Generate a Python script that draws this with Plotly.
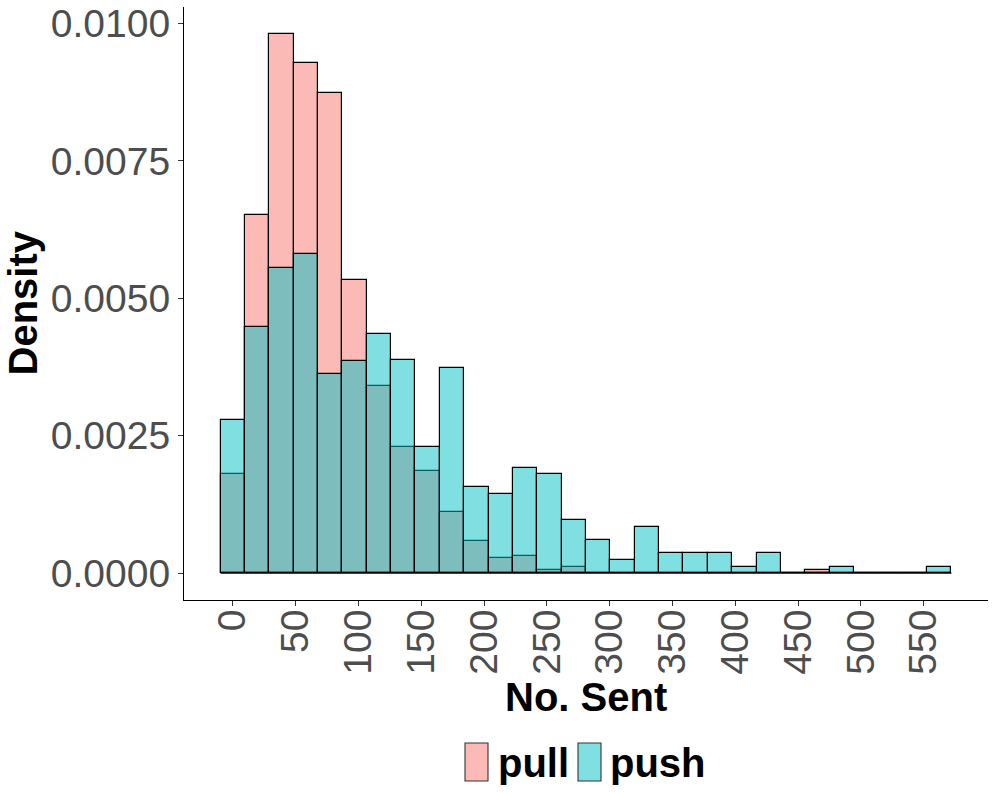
import plotly.graph_objects as go

# ---- data (density per bin) ----
bin_width = 19.39
n_bins = 30
bin_centers = [round(k * bin_width, 3) for k in range(n_bins)]

pull_density = [0.00181, 0.00651, 0.00981, 0.00928, 0.00874, 0.00533, 0.00341, 0.00229,
                0.00186, 0.00111, 0.00058, 0.00027, 0.00031, 0.000055, 0.00011, 0.0,
                0.0, 0.0, 0.0, 0.0, 0.0, 0.0, 0.0, 0.0,
                0.000055, 0.0, 0.0, 0.0, 0.0, 0.0]
push_density = [0.00278, 0.00447, 0.00556, 0.00580, 0.00362, 0.00385, 0.00435, 0.00387,
                0.00229, 0.00374, 0.00156, 0.00144, 0.00192, 0.00181, 0.00096, 0.0006,
                0.000236, 0.00084, 0.000357, 0.000357, 0.000357, 0.000115, 0.000357, 0.0,
                0.0, 0.000115, 0.0, 0.0, 0.0, 0.000115]

x_ticks = [0, 50, 100, 150, 200, 250, 300, 350, 400, 450, 500, 550]
y_ticks = [0.0, 0.0025, 0.005, 0.0075, 0.01]
y_ticklabels = ["0.0000", "0.0025", "0.0050", "0.0075", "0.0100"]

series_names = ["pull", "push"]
fill_colors = ["rgba(248,118,109,0.5)", "rgba(0,191,196,0.5)"]

FONT = "Liberation Sans, Arial, sans-serif"

W, H = 996, 797
plot_l, plot_r, plot_t, plot_b = 184, 988, 7, 600

fig = go.Figure()
for name, vals, col in zip(series_names, [pull_density, push_density], fill_colors):
    fig.add_trace(go.Bar(
        x=bin_centers, y=vals, width=bin_width, name=name,
        marker=dict(color=col, line=dict(color="black", width=1.2)),
        showlegend=False,
    ))

# baseline of the histogram (empty bins are drawn as a flat line in the original)
edges = [bin_centers[0] - bin_width / 2, bin_centers[-1] + bin_width / 2]
fig.add_trace(go.Scatter(x=edges, y=[0, 0], mode="lines",
                         line=dict(color="black", width=1.2),
                         showlegend=False, hoverinfo="skip"))

data_lo, data_hi = edges
pad_x = 0.05 * (data_hi - data_lo)
ymax = max(max(pull_density), max(push_density))
pad_y = 0.05 * ymax

fig.update_layout(
    width=W, height=H,
    margin=dict(l=plot_l, r=W - plot_r, t=plot_t, b=H - plot_b, pad=0),
    paper_bgcolor="white", plot_bgcolor="white",
    barmode="overlay", bargap=0,
    font=dict(family=FONT),
    xaxis=dict(
        range=[data_lo - pad_x, data_hi + pad_x], automargin=False,
        tickvals=x_ticks, tickangle=-90, ticklabelstandoff=-12,
        tickfont=dict(size=39, color="#4D4D4D", family=FONT),
        ticks="outside", ticklen=5, tickwidth=1.1, tickcolor="#333333",
        showline=True, linecolor="black", linewidth=1.1,
        showgrid=False, zeroline=False,
    ),
    yaxis=dict(
        range=[-pad_y, ymax + pad_y], automargin=False,
        tickvals=y_ticks, ticktext=y_ticklabels, ticklabeloverflow="allow",
        tickfont=dict(size=39, color="#4D4D4D", family=FONT),
        ticks="outside", ticklen=5, tickwidth=1.1, tickcolor="#333333",
        showline=True, linecolor="black", linewidth=1.1,
        showgrid=False, zeroline=False,
    ),
)

# ---- helpers: page pixels -> paper coordinates ----
def px_x(p):
    return (p - plot_l) / (plot_r - plot_l)
def px_y(p):
    return (plot_b - p) / (plot_b - plot_t)

# axis titles
fig.add_annotation(xref="paper", yref="paper", x=0.5, y=px_y(697),
                   xanchor="center", yanchor="middle", showarrow=False,
                   text="<b>No. Sent</b>", font=dict(size=40, color="black", family=FONT))
fig.add_annotation(xref="paper", yref="paper", x=px_x(22), y=0.5,
                   xanchor="center", yanchor="middle", showarrow=False, textangle=-90,
                   text="<b>Density</b>", font=dict(size=40, color="black", family=FONT))

# ---- legend drawn below the plot ----
legend_boxes = [(465, 488), (578, 601)]
legend_text_x = [496, 608]
for name, col, (bx0, bx1), tx in zip(series_names, fill_colors, legend_boxes, legend_text_x):
    fig.add_shape(type="rect", xref="paper", yref="paper",
                  x0=px_x(bx0), x1=px_x(bx1), y0=px_y(781), y1=px_y(743),
                  fillcolor=col, line=dict(color="#333333", width=1.1))
    fig.add_annotation(xref="paper", yref="paper", x=px_x(tx), y=px_y(763),
                       xanchor="left", yanchor="middle", showarrow=False,
                       text="<b>" + name + "</b>",
                       font=dict(size=40, color="black", family=FONT))

fig.write_html("out.html", config={"displayModeBar": False},
               post_script="document.body.style.margin='0px';")
